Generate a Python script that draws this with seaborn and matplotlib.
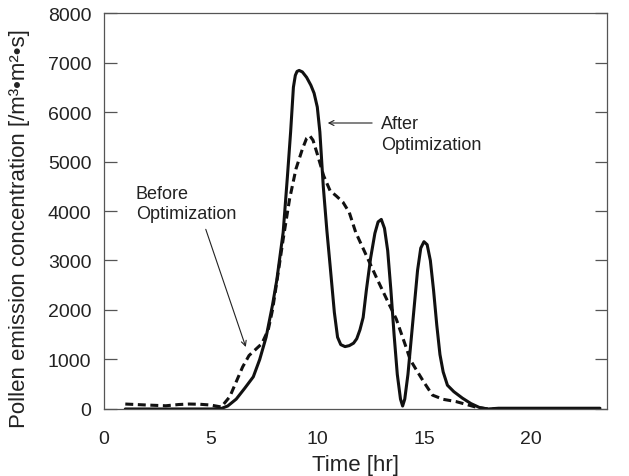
import numpy as np
import pandas as pd
import matplotlib
matplotlib.use("Agg")
import matplotlib.pyplot as plt
import seaborn as sns

# Hourly pollen emission concentration, after optimization (solid)
after_t = [1.0, 2.0, 3.0, 4.0, 5.0, 5.5, 5.8, 6.2, 6.6, 7.0, 7.3, 7.6, 7.9,
           8.1, 8.4, 8.6, 8.75, 8.88, 8.97, 9.05, 9.15, 9.3, 9.5, 9.7, 9.85,
           10.0, 10.12, 10.28, 10.45, 10.6, 10.8, 10.95, 11.1, 11.3, 11.5,
           11.7, 11.85, 12.0, 12.15, 12.3, 12.5, 12.7, 12.85, 13.0, 13.15,
           13.3, 13.45, 13.6, 13.75, 13.9, 14.0, 14.1, 14.25, 14.4, 14.55,
           14.7, 14.85, 15.0, 15.15, 15.3, 15.45, 15.6, 15.75, 15.9, 16.1,
           16.4, 16.8, 17.2, 17.6, 18.0, 18.5, 20.0, 21.5, 23.25]
after_v = [0, 0, 0, 0, 0, 10, 60, 200, 420, 650, 1000, 1450, 2100,
           2600, 3570, 4700, 5600, 6500, 6740, 6820, 6840, 6810, 6700, 6540, 6380,
           6100, 5600, 4500, 3600, 2900, 1950, 1450, 1300, 1260, 1280,
           1330, 1420, 1600, 1850, 2400, 3050, 3550, 3780, 3830, 3650,
           3200, 2400, 1500, 700, 200, 60, 200, 700, 1400, 2100,
           2800, 3250, 3380, 3320, 3000, 2400, 1700, 1100, 750, 480,
           350, 220, 110, 30, 0, 15, 15, 15, 15]

# Hourly pollen emission concentration, before optimization (dashed)
before_t = [1.0, 2.0, 2.9, 3.5, 4.0, 4.5, 5.0, 5.5, 5.9, 6.2, 6.5, 6.8, 7.1,
            7.4, 7.7, 7.9, 8.1, 8.4, 8.7, 9.0, 9.3, 9.5, 9.65, 9.8, 10.0,
            10.3, 10.6, 10.9, 11.2, 11.5, 11.8, 12.3, 12.8, 13.25, 13.7,
            14.2, 14.35, 14.6, 15.0, 15.4, 15.9, 16.5, 17.0, 17.5, 18.0,
            19.0, 21.0, 23.25]
before_v = [100, 80, 65, 90, 100, 95, 80, 40, 250, 550, 850, 1080, 1200,
            1320, 1600, 2000, 2560, 3430, 4240, 4850, 5250, 5470, 5520, 5430, 5150,
            4710, 4410, 4300, 4180, 3970, 3570, 3100, 2630, 2220, 1820,
            1200, 1000, 820, 540, 280, 195, 150, 90, 30, 0,
            0, 0, 0]

x_ticks = [0, 5, 10, 15, 20]
y_ticks = [0, 1000, 2000, 3000, 4000, 5000, 6000, 7000, 8000]

sns.set_style("white")
plt.rcParams["font.family"] = ["Liberation Sans", "DejaVu Sans"]

fig = plt.figure(figsize=(6.29, 4.77), dpi=100)
ax = fig.add_axes([0.1653, 0.1405, 0.7997, 0.8301])

after_df = pd.DataFrame({"t": after_t, "v": after_v})
before_df = pd.DataFrame({"t": before_t, "v": before_v})

sns.lineplot(data=before_df, x="t", y="v", ax=ax, color="#111111",
             linewidth=2.2, sort=False)
ax.lines[-1].set_dashes((2.6, 1.5))
sns.lineplot(data=after_df, x="t", y="v", ax=ax, color="#111111",
             linewidth=2.2, sort=False)
for ln in ax.lines:
    ln.set_solid_joinstyle("round")
    ln.set_dash_joinstyle("round")

ax.set_xlim(0, 23.58)
ax.set_ylim(0, 8000)
ax.set_xticks(x_ticks)
ax.set_yticks(y_ticks)

text_col = "#222222"
spine_col = "#555555"
for s in ax.spines.values():
    s.set_color(spine_col)
    s.set_linewidth(0.9)

ax.tick_params(axis="x", direction="in", length=9, width=0.9, color=spine_col,
               pad=15, labelsize=14, labelcolor=text_col, top=False)
ax.tick_params(axis="y", direction="in", length=9, width=0.9, color=spine_col,
               pad=9, labelsize=14, labelcolor=text_col, left=True, right=True)

ax.set_xlabel("Time [hr]", fontsize=16, color=text_col, labelpad=5)
ax.set_ylabel("Pollen emission concentration [/m³•m²•s]", fontsize=16,
              color=text_col)
ax.yaxis.set_label_coords(-0.148, 0.457)

arrow = dict(arrowstyle="->", color="#222222", lw=0.8, mutation_scale=9)
ax.annotate("", xy=(10.36, 5778), xytext=(12.70, 5778), arrowprops=arrow)
ax.text(12.97, 5556, "After\nOptimization", fontsize=13, color=text_col,
        ha="left", va="center", linespacing=1.25)
ax.annotate("", xy=(6.69, 1199), xytext=(4.73, 3683), arrowprops=arrow)
ax.text(1.5, 4148, "Before\nOptimization", fontsize=13, color=text_col,
        ha="left", va="center", linespacing=1.25)

fig.savefig("out.png", dpi=100)
